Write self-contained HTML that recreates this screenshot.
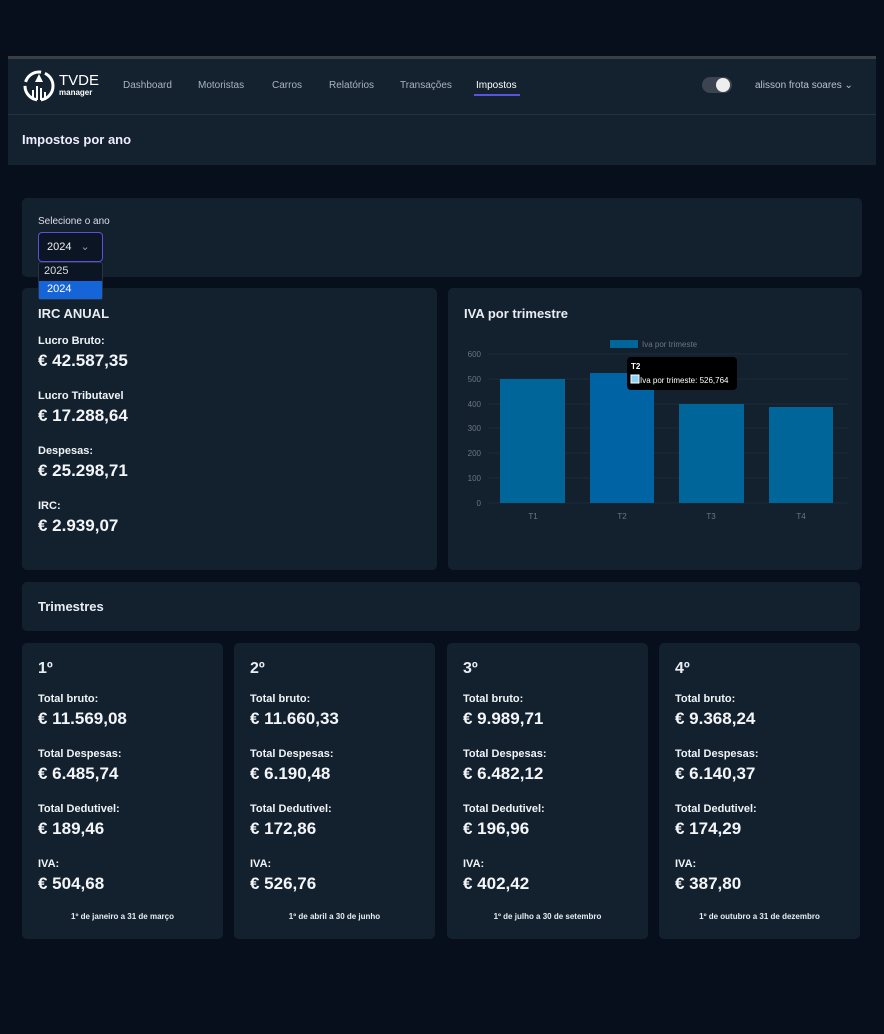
<!DOCTYPE html>
<html><head><meta charset="utf-8"><style>
*{margin:0;padding:0;box-sizing:border-box}
body{width:884px;height:1034px;background:#070f1d;font-family:"Liberation Sans",sans-serif;color:#e8edf3;position:relative;overflow:hidden}
.abs{position:absolute}
.card{position:absolute;background:#13212f;border-radius:5px}
.nav a{position:absolute;top:80px;font-size:10px;color:#a9b4c0}
.lbl{font-size:11px;font-weight:bold;color:#f0f3f6}
.val{font-size:17px;color:#f3f5f8;font-weight:bold}
</style></head><body>
<div class="abs" style="left:8px;top:56px;width:868px;height:3px;background:#3a3e45"></div>
<div class="abs" style="left:8px;top:59px;width:868px;height:55px;background:#14212f"></div>
<div class="abs" style="left:8px;top:114px;width:868px;height:1px;background:#26323f"></div>
<div class="abs" style="left:8px;top:115px;width:868px;height:50px;background:#14212f"></div>
<svg class="abs" style="left:22px;top:68px" width="34" height="36"><circle cx="17" cy="18" r="14" fill="none" stroke="#fff" stroke-width="3" stroke-dasharray="20 4"/><path d="M17 6 L21 14 L13 14Z" fill="#fff"/><rect x="10" y="22" width="2" height="10" fill="#fff"/><rect x="14" y="18" width="2" height="14" fill="#fff"/><rect x="18" y="20" width="2" height="12" fill="#fff"/><rect x="22" y="24" width="2" height="8" fill="#fff"/></svg>
<div class="abs" style="left:59px;top:72px;font-size:15px;color:#fff">TVDE</div>
<div class="abs" style="left:59px;top:88px;font-size:8px;color:#fff;font-weight:bold">manager</div>
<div class="nav"><a style="left:123px">Dashboard</a><a style="left:198px">Motoristas</a><a style="left:272px">Carros</a><a style="left:329px">Relatórios</a><a style="left:400px">Transações</a><a style="left:476px;color:#fff">Impostos</a></div>
<div class="abs" style="left:474px;top:94px;width:46px;height:2px;background:#5a52e0"></div>
<div class="abs" style="left:702px;top:77px;width:30px;height:16px;border-radius:8px;background:#3b4450"></div>
<div class="abs" style="left:716px;top:78px;width:14px;height:14px;border-radius:7px;background:#eee"></div>
<div class="abs" style="left:755px;top:80px;font-size:10px;color:#b8c2cc">alisson frota soares &#8964;</div>
<div class="abs" style="left:22px;top:132px;font-size:13px;font-weight:bold;color:#eef">Impostos por ano</div>

<div class="card" style="left:22px;top:198px;width:840px;height:79px"></div>
<div class="abs" style="left:38px;top:216px;font-size:10px;color:#dde">Selecione o ano</div>
<div class="abs" style="left:38px;top:232px;width:65px;height:30px;border:1.5px solid #5a50e0;border-radius:4px;background:#0b1524;font-size:11px;padding:7px 0 0 8px;color:#eee">2024 <span style="color:#99a;margin-left:6px">&#8964;</span></div>

<div class="card" style="left:22px;top:288px;width:415px;height:282px"></div>
<div class="abs" style="left:38px;top:306px;font-size:13px;font-weight:bold">IRC ANUAL</div>
<div class="abs lbl" style="left:38px;top:335px">Lucro Bruto:</div><div class="abs val" style="left:38px;top:351px">€ 42.587,35</div>
<div class="abs lbl" style="left:38px;top:390px">Lucro Tributavel</div><div class="abs val" style="left:38px;top:406px">€ 17.288,64</div>
<div class="abs lbl" style="left:38px;top:445px">Despesas:</div><div class="abs val" style="left:38px;top:461px">€ 25.298,71</div>
<div class="abs lbl" style="left:38px;top:500px">IRC:</div><div class="abs val" style="left:38px;top:516px">€ 2.939,07</div>

<div class="abs" style="left:38px;top:262px;width:65px;height:38px;background:#0b1524;border:1px solid #2a3440;border-radius:3px"></div>
<div class="abs" style="left:44px;top:265px;font-size:11px;color:#ddd">2025</div>
<div class="abs" style="left:39px;top:281px;width:63px;height:18px;background:#1565d8;font-size:11px;padding:2px 0 0 8px;color:#fff">2024</div>

<div class="card" style="left:448px;top:288px;width:414px;height:282px"></div>
<div class="abs" style="left:464px;top:306px;font-size:13px;font-weight:bold">IVA por trimestre</div>
<svg class="abs" style="left:448px;top:330px" width="414" height="200" font-family="Liberation Sans" font-size="8" fill="#6b7580">
<rect x="162" y="10" width="28" height="8" fill="#00669a"/><text x="194" y="17">Iva por trimeste</text>
<g stroke="#1c2a38" stroke-width="1">
<line x1="40" y1="24" x2="400" y2="24"/><line x1="40" y1="49" x2="400" y2="49"/><line x1="40" y1="74" x2="400" y2="74"/><line x1="40" y1="98" x2="400" y2="98"/><line x1="40" y1="123" x2="400" y2="123"/><line x1="40" y1="148" x2="400" y2="148"/><line x1="40" y1="173" x2="400" y2="173"/></g>
<g text-anchor="end"><text x="33" y="27">600</text><text x="33" y="52">500</text><text x="33" y="77">400</text><text x="33" y="101">300</text><text x="33" y="126">200</text><text x="33" y="151">100</text><text x="33" y="176">0</text></g>
<rect x="52" y="49" width="65" height="124" fill="#00669a"/>
<rect x="142" y="43" width="64" height="130" fill="#0063a3"/>
<rect x="231" y="74" width="65" height="99" fill="#00669a"/>
<rect x="321" y="77" width="64" height="96" fill="#00669a"/>
<g text-anchor="middle"><text x="85" y="189">T1</text><text x="174" y="189">T2</text><text x="263" y="189">T3</text><text x="353" y="189">T4</text></g>
<rect x="179" y="27" width="110" height="33" rx="4" fill="#000"/>
<text x="183" y="39" fill="#fff" font-weight="bold">T2</text>
<rect x="183" y="45" width="8" height="8" fill="#8cd2f5" stroke="#fff" stroke-width="1"/>
<text x="192" y="53" fill="#fff">Iva por trimeste: 526,764</text>
</svg>

<div class="card" style="left:22px;top:582px;width:838px;height:49px"></div>
<div class="abs" style="left:38px;top:599px;font-size:13px;font-weight:bold">Trimestres</div>

<div class="card" style="left:22px;top:643px;width:201px;height:296px"></div>
<div class="card" style="left:234px;top:643px;width:201px;height:296px"></div>
<div class="card" style="left:447px;top:643px;width:201px;height:296px"></div>
<div class="card" style="left:659px;top:643px;width:201px;height:296px"></div>

<div class="abs" style="left:38px;top:660px;font-size:16px;font-weight:bold">1º</div>
<div class="abs lbl" style="left:38px;top:693px">Total bruto:</div><div class="abs val" style="left:38px;top:709px">€ 11.569,08</div>
<div class="abs lbl" style="left:38px;top:748px">Total Despesas:</div><div class="abs val" style="left:38px;top:764px">€ 6.485,74</div>
<div class="abs lbl" style="left:38px;top:803px">Total Dedutivel:</div><div class="abs val" style="left:38px;top:819px">€ 189,46</div>
<div class="abs lbl" style="left:38px;top:858px">IVA:</div><div class="abs val" style="left:38px;top:874px">€ 504,68</div>
<div class="abs" style="left:22px;width:201px;top:912px;font-size:8px;text-align:center;font-weight:bold">1º de janeiro a 31 de março</div>

<div class="abs" style="left:250px;top:660px;font-size:16px;font-weight:bold">2º</div>
<div class="abs lbl" style="left:250px;top:693px">Total bruto:</div><div class="abs val" style="left:250px;top:709px">€ 11.660,33</div>
<div class="abs lbl" style="left:250px;top:748px">Total Despesas:</div><div class="abs val" style="left:250px;top:764px">€ 6.190,48</div>
<div class="abs lbl" style="left:250px;top:803px">Total Dedutivel:</div><div class="abs val" style="left:250px;top:819px">€ 172,86</div>
<div class="abs lbl" style="left:250px;top:858px">IVA:</div><div class="abs val" style="left:250px;top:874px">€ 526,76</div>
<div class="abs" style="left:234px;width:201px;top:912px;font-size:8px;text-align:center;font-weight:bold">1º de abril a 30 de junho</div>

<div class="abs" style="left:463px;top:660px;font-size:16px;font-weight:bold">3º</div>
<div class="abs lbl" style="left:463px;top:693px">Total bruto:</div><div class="abs val" style="left:463px;top:709px">€ 9.989,71</div>
<div class="abs lbl" style="left:463px;top:748px">Total Despesas:</div><div class="abs val" style="left:463px;top:764px">€ 6.482,12</div>
<div class="abs lbl" style="left:463px;top:803px">Total Dedutivel:</div><div class="abs val" style="left:463px;top:819px">€ 196,96</div>
<div class="abs lbl" style="left:463px;top:858px">IVA:</div><div class="abs val" style="left:463px;top:874px">€ 402,42</div>
<div class="abs" style="left:447px;width:201px;top:912px;font-size:8px;text-align:center;font-weight:bold">1º de julho a 30 de setembro</div>

<div class="abs" style="left:675px;top:660px;font-size:16px;font-weight:bold">4º</div>
<div class="abs lbl" style="left:675px;top:693px">Total bruto:</div><div class="abs val" style="left:675px;top:709px">€ 9.368,24</div>
<div class="abs lbl" style="left:675px;top:748px">Total Despesas:</div><div class="abs val" style="left:675px;top:764px">€ 6.140,37</div>
<div class="abs lbl" style="left:675px;top:803px">Total Dedutivel:</div><div class="abs val" style="left:675px;top:819px">€ 174,29</div>
<div class="abs lbl" style="left:675px;top:858px">IVA:</div><div class="abs val" style="left:675px;top:874px">€ 387,80</div>
<div class="abs" style="left:659px;width:201px;top:912px;font-size:8px;text-align:center;font-weight:bold">1º de outubro a 31 de dezembro</div>
</body></html>
